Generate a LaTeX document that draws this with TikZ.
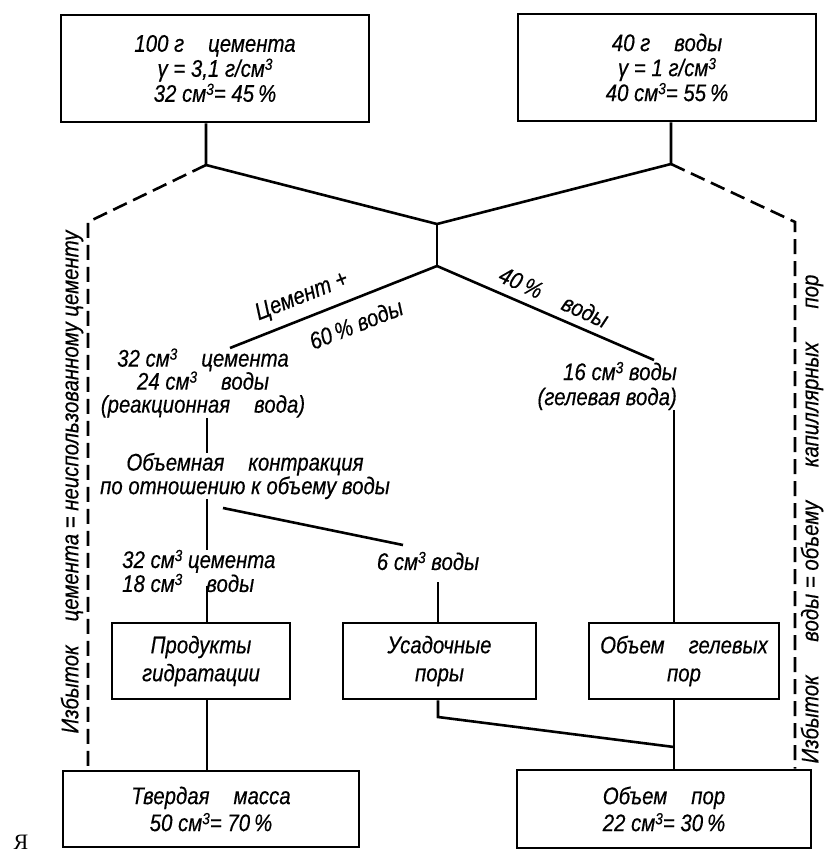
\documentclass[tikz,border=0pt]{standalone}
\usepackage{fontspec}
\setmainfont{Liberation Sans}
\newfontfamily\hand{Liberation Sans Italic}[FakeStretch=0.85,FakeBold=0.4]
\newfontfamily\serifya{Liberation Serif}
\newcommand\cbm{\raisebox{0.55ex}{\fontsize{16}{16}\selectfont 3}}
\begin{document}
\begin{tikzpicture}[x=1pt,y=-1pt,
  every node/.style={font=\hand\fontsize{24}{25}\selectfont, inner sep=0pt},
  blk/.style={draw, line width=2.7pt, align=center},
  lbl/.style={align=center},
  ln/.style={line width=2.6pt},
  dsh/.style={line width=2.6pt, dash pattern=on 15pt off 7pt}]
\fill[white] (0,0) rectangle (832,856);
\useasboundingbox (0,0) rectangle (832,856);

% boxes
\node[blk, minimum width=308pt, minimum height=107pt] (b1) at (215,68.5) {100 г\quad цемента\\γ = 3,1 г/см\cbm\\32 см\cbm = 45\,\%};
\node[blk, minimum width=298pt, minimum height=107pt] (b2) at (667,67.5) {40 г\quad воды\\γ = 1 г/см\cbm\\40 см\cbm = 55\,\%};
\node[blk, minimum width=178pt, minimum height=76pt, font=\hand\fontsize{24}{28}\selectfont] (P) at (201,661) {Продукты\\гидратации};
\node[blk, minimum width=193pt, minimum height=76pt, font=\hand\fontsize{24}{28}\selectfont] (U) at (439.5,661) {Усадочные\\поры};
\node[blk, minimum width=190pt, minimum height=76pt, font=\hand\fontsize{24}{28}\selectfont] (G) at (684,661) {Объем\quad гелевых\\пор};
\node[blk, minimum width=296pt, minimum height=76pt, font=\hand\fontsize{24}{27}\selectfont] (T) at (211,809) {Твердая\quad масса\\50 см\cbm = 70\,\%};
\node[blk, minimum width=294pt, minimum height=78pt, font=\hand\fontsize{24}{27}\selectfont] (O) at (664,809) {Объем\quad пор\\22 см\cbm = 30\,\%};

% text nodes
\node[lbl, font=\hand\fontsize{24}{23}\selectfont] (tR) at (203,383) {32 см\cbm\quad цемента\\24 см\cbm\quad воды\\(реакционная\quad вода)};
\node[align=right, anchor=east, font=\hand\fontsize{24}{25}\selectfont] (t16) at (677,386) {16 см\cbm\ воды\\(гелевая вода)};
\node[lbl, font=\hand\fontsize{24}{19}\selectfont] (tK) at (245,476) {Объемная\quad контракция\\по отношению\ к объему воды};
\node[align=left, anchor=west, font=\hand\fontsize{24}{19}\selectfont] (tF) at (122,571) {32 см\cbm\ цемента\\18 см\cbm\quad воды};
\node (t6) at (428,561) {6 см\cbm\ воды};

\node[rotate=21.6] (lc) at (302,297) {Цемент +};
\node[rotate=21.6] (l60) at (356,324) {60\,\% воды};
\node[rotate=-24] (l40) at (554,297) {40\,\%\quad воды};

\node[rotate=90] (sl) at (72,482) {Избыток\quad цемента = неиспользованному цементу};
\node[rotate=90] (sr) at (812,519) {Избыток\hspace{1.4em}воды = объему\hspace{1.4em}капиллярных\hspace{1.4em}пор};

\node[font=\serifya\fontsize{22}{22}\selectfont] (ya) at (21,842) {Я};

% coordinates
\coordinate (j1) at (206,165);
\coordinate (j2) at (671,164);
\coordinate (jc) at (437,224);
\coordinate (jd) at (437,266);
\coordinate (dl) at (88,222);
\coordinate (dr) at (795,222);
\coordinate (lb) at (230,348);
\coordinate (rb) at (654,360);
\coordinate (xP) at (207,0);
\coordinate (xU) at (438,0);
\coordinate (xG) at (674,0);
\coordinate (xL) at (88,0);
\coordinate (xR) at (795,0);
\coordinate (k1) at (223,508);
\coordinate (k2) at (403,545);
\coordinate (u1) at (438,717);
\coordinate (u2) at (674,747);

% connectors
\draw[ln] (j1 |- b1.south) -- (j1) -- (jc) -- (j2) -- (j2 |- b2.south);
\draw[ln] (jc) -- (jd);
\draw[ln] (lb) -- (jd) -- (rb);
\draw[dsh] (j1) -- (dl) -- (xL |- T.north);
\draw[dsh] (j2) -- (dr) -- (xR |- O.north);
\draw[ln] (xP |- tR.south) -- (xP |- tK.north);
\draw[ln] (xP |- tK.south) -- (xP |- tF.north);
\draw[ln] (k1) -- (k2);
\draw[ln] (xU |- t6.south) ++(0,12) -- (xU |- U.north);
\draw[ln] (xG |- t16.south) -- (xG |- G.north);
\draw[ln] ([yshift=6pt]xP |- tF.south) -- (xP |- P.north);
\draw[ln] (xP |- P.south) -- (xP |- T.north);
\draw[ln] (xU |- U.south) -- (u1) -- (u2);
\draw[ln] (xG |- G.south) -- (xG |- O.north);
\end{tikzpicture}
\end{document}
